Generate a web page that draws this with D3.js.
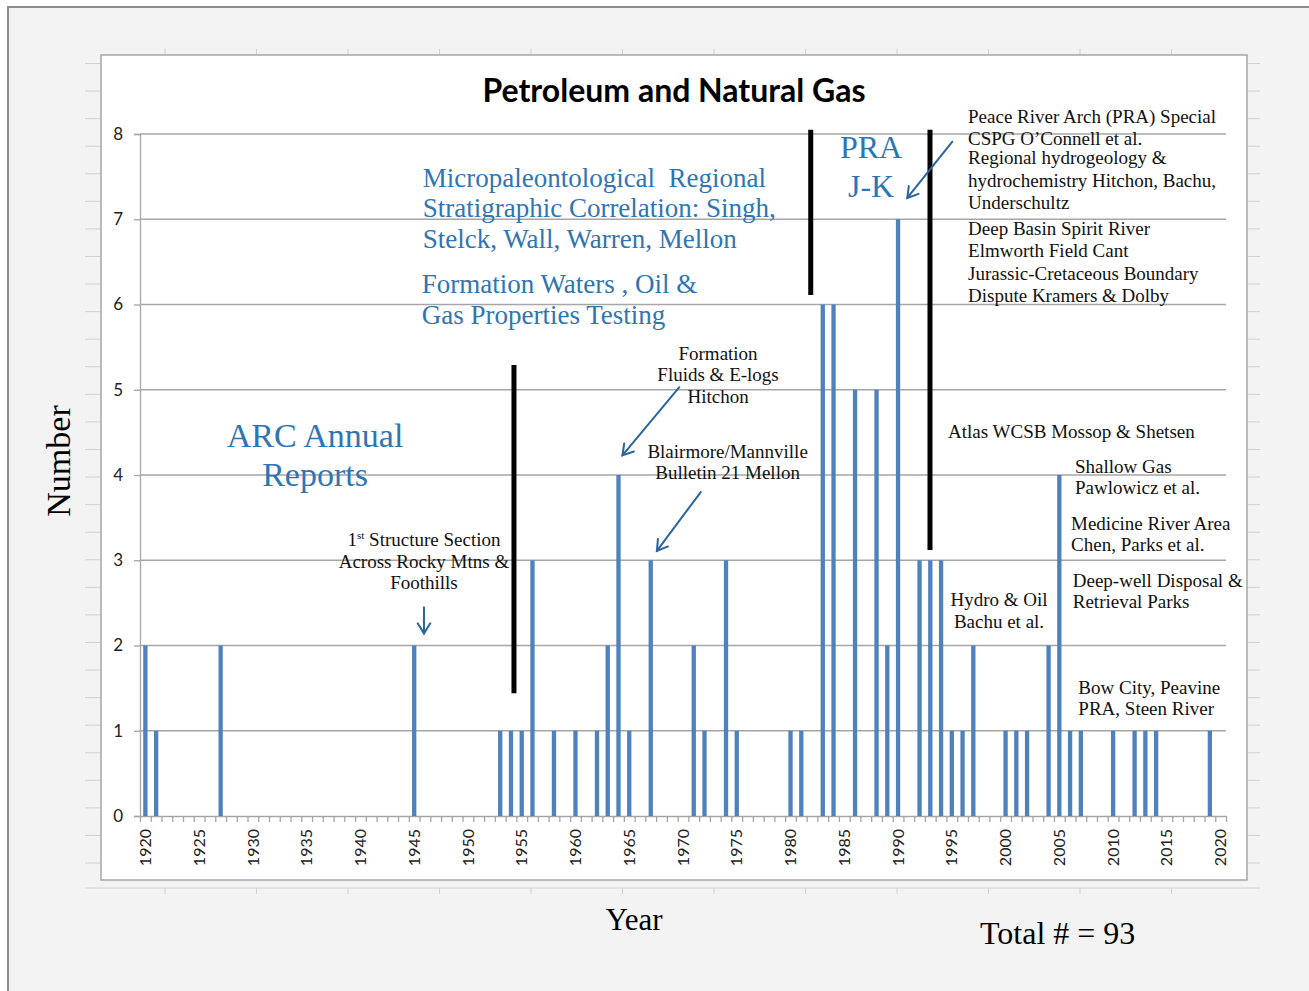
<!DOCTYPE html>
<html>
<head>
<meta charset="utf-8">
<script src="https://cdn.jsdelivr.net/npm/d3@7"></script>
<style>
  body { margin: 0; background: #fff; }
  text { white-space: pre; }
</style>
</head>
<body>
<script>

// data: publications per year
let years  = [1920, 1921, 1927, 1945, 1953, 1954, 1955, 1956, 1958, 1960, 1962, 1963, 1964, 1965, 1967,
              1971, 1972, 1974, 1975, 1980, 1981, 1983, 1984, 1986, 1988, 1989, 1990, 1992, 1993, 1994,
              1995, 1996, 1997, 2000, 2001, 2002, 2004, 2005, 2006, 2007, 2010, 2012, 2013, 2014, 2019];
let counts = [2, 1, 2, 2, 1, 1, 1, 3, 1, 1, 1, 2, 4, 1, 3,
              2, 1, 3, 1, 1, 1, 6, 6, 5, 5, 2, 7, 3, 3, 3,
              1, 1, 2, 1, 1, 1, 2, 4, 1, 1, 1, 1, 1, 1, 1];

let yearLabels = [1920, 1925, 1930, 1935, 1940, 1945, 1950, 1955, 1960, 1965, 1970,
                  1975, 1980, 1985, 1990, 1995, 2000, 2005, 2010, 2015, 2020];
let valueLabels = [0, 1, 2, 3, 4, 5, 6, 7, 8];

// annotations, placed in chart units (year, number)
let blueNotes = [
  {text: "Micropaleontological  Regional", year: 1945.79, value: 7.38, anchor: "start", size: 27},
  {text: "Stratigraphic Correlation: Singh,", year: 1945.79, value: 7.03, anchor: "start", size: 27},
  {text: "Stelck, Wall, Warren, Mellon", year: 1945.79, value: 6.66, anchor: "start", size: 27},
  {text: "Formation Waters , Oil &", year: 1945.70, value: 6.13, anchor: "start", size: 27},
  {text: "Gas Properties Testing", year: 1945.70, value: 5.77, anchor: "start", size: 27},
  {text: "ARC Annual", year: 1935.78, value: 4.33, anchor: "middle", size: 34},
  {text: "Reports", year: 1935.78, value: 3.87, anchor: "middle", size: 34},
  {text: "PRA", year: 1987.49, value: 7.72, anchor: "middle", size: 32},
  {text: "J-K", year: 1987.49, value: 7.26, anchor: "middle", size: 32}
];

let blackNotes = [
  {text: "Across Rocky Mtns &", year: 1945.91, value: 2.91, anchor: "middle"},
  {text: "Foothills", year: 1945.91, value: 2.66, anchor: "middle"},
  {text: "Formation", year: 1973.26, value: 5.35, anchor: "middle"},
  {text: "Fluids & E-logs", year: 1973.26, value: 5.10, anchor: "middle"},
  {text: "Hitchon", year: 1973.26, value: 4.84, anchor: "middle"},
  {text: "Blairmore/Mannville", year: 1974.15, value: 4.20, anchor: "middle"},
  {text: "Bulletin 21 Mellon", year: 1974.15, value: 3.95, anchor: "middle"},
  {text: "Peace River Arch (PRA) Special", year: 1996.51, value: 8.13, anchor: "start"},
  {text: "CSPG O\u2019Connell et al.", year: 1996.51, value: 7.87, anchor: "start"},
  {text: "Regional hydrogeology &", year: 1996.51, value: 7.65, anchor: "start"},
  {text: "hydrochemistry Hitchon, Bachu,", year: 1996.51, value: 7.38, anchor: "start"},
  {text: "Underschultz", year: 1996.51, value: 7.12, anchor: "start"},
  {text: "Deep Basin Spirit River", year: 1996.51, value: 6.82, anchor: "start"},
  {text: "Elmworth Field Cant", year: 1996.51, value: 6.56, anchor: "start"},
  {text: "Jurassic-Cretaceous Boundary", year: 1996.51, value: 6.29, anchor: "start"},
  {text: "Dispute Kramers & Dolby", year: 1996.51, value: 6.03, anchor: "start"},
  {text: "Atlas WCSB Mossop & Shetsen", year: 1994.65, value: 4.43, anchor: "start"},
  {text: "Shallow Gas", year: 2006.46, value: 4.02, anchor: "start"},
  {text: "Pawlowicz et al.", year: 2006.46, value: 3.78, anchor: "start"},
  {text: "Medicine River Area", year: 2006.09, value: 3.36, anchor: "start"},
  {text: "Chen, Parks et al.", year: 2006.09, value: 3.11, anchor: "start"},
  {text: "Deep-well Disposal &", year: 2006.25, value: 2.69, anchor: "start"},
  {text: "Retrieval Parks", year: 2006.25, value: 2.44, anchor: "start"},
  {text: "Hydro & Oil", year: 1999.39, value: 2.46, anchor: "middle"},
  {text: "Bachu et al.", year: 1999.39, value: 2.20, anchor: "middle"},
  {text: "Bow City, Peavine", year: 2006.77, value: 1.43, anchor: "start"},
  {text: "PRA, Steen River", year: 2006.77, value: 1.19, anchor: "start"}
];

let dividers = [
  {year: 1954.28, from: 1.44, to: 5.29},
  {year: 1981.88, from: 6.11, to: 8.05},
  {year: 1992.97, from: 3.12, to: 8.05}
];

let arrows = [
  {y1: 1945.91, v1: 2.45, y2: 1945.91, v2: 2.14},
  {y1: 1969.66, v1: 5.03, y2: 1964.37, v2: 4.23},
  {y1: 1971.65, v1: 3.80, y2: 1967.57, v2: 3.11},
  {y1: 1995.05, v1: 7.91, y2: 1990.86, v2: 7.25}
];

let width = 1309;
let height = 991;
let margin = ({top: 134, right: 83, bottom: 175, left: 140});

let barColor = "#4f81bd";
let noteBlue = "#2e75b6";
let arrowBlue = "#2b64a0";
let gridColor = "#a6a6a6";
let serif = "'Liberation Serif', 'Times New Roman', serif";
let sans = "Lato, 'Liberation Sans', sans-serif";

let svg = d3.select("body")
  .append("svg")
  .attr("width", width)
  .attr("height", height);

// slide background and frame
svg.append("rect")
  .attr("width", width).attr("height", height)
  .attr("fill", "#fff");
svg.append("rect")
  .attr("x", 8).attr("y", 7)
  .attr("width", width).attr("height", height)
  .attr("fill", "#f3f3f3")
  .attr("stroke", "#8c8c8c")
  .attr("stroke-width", 2);

// faint ruler ticks around the pasted chart
let faint = svg.append("g").attr("stroke", "#d2d2d2").attr("stroke-width", 1);
d3.range(63.5, 880, 27.57).forEach(ty => {
  faint.append("line").attr("x1", 85).attr("x2", 101).attr("y1", ty).attr("y2", ty);
  faint.append("line").attr("x1", 1247).attr("x2", 1260).attr("y1", ty).attr("y2", ty);
});
faint.append("line").attr("x1", 85).attr("x2", 1260).attr("y1", 888).attr("y2", 888);
d3.range(165, 1250, 91.5).forEach(tx => {
  faint.append("line").attr("x1", tx).attr("x2", tx).attr("y1", 888).attr("y2", 894);
  faint.append("line").attr("x1", tx).attr("x2", tx).attr("y1", 49).attr("y2", 55);
});

// chart area
svg.append("rect")
  .attr("x", 101).attr("y", 55)
  .attr("width", 1146).attr("height", 825)
  .attr("fill", "#fff")
  .attr("stroke", gridColor)
  .attr("stroke-width", 1.5);

let allYears = d3.range(1920, 2021);

let x = d3.scaleBand()
  .domain(allYears)
  .range([margin.left, width - margin.right])
  .paddingInner(0.6)
  .paddingOuter(0.3);

// continuous year scale for ticks and notes (category centres on whole years)
let xa = d3.scaleLinear()
  .domain([1919.5, 2020.5])
  .range([margin.left, width - margin.right]);

let y = d3.scaleLinear()
  .domain([0, 8])
  .range([height - margin.bottom, margin.top]);

// gridlines
svg.append("g")
  .selectAll("line")
  .data(valueLabels.filter(v => v > 0))
  .join("line")
    .attr("x1", margin.left)
    .attr("x2", width - margin.right)
    .attr("y1", d => y(d))
    .attr("y2", d => y(d))
    .attr("stroke", gridColor)
    .attr("stroke-width", 1.3);

// axes
let yAxis = g => g
  .attr("transform", `translate(${margin.left},0)`)
  .call(d3.axisLeft(y).tickValues(valueLabels).tickSize(6).tickPadding(11))
  .call(g => g.selectAll("line, path").attr("stroke", gridColor).attr("stroke-width", 1.3))
  .call(g => g.selectAll("text").attr("font-family", sans).attr("font-size", 17).attr("fill", "#222"));

let xAxis = g => g
  .attr("transform", `translate(0,${height - margin.bottom})`)
  .call(d3.axisBottom(xa).tickValues(d3.range(1919.5, 2021, 1)).tickSize(6).tickFormat("").tickSizeOuter(0))
  .call(g => g.selectAll("line, path").attr("stroke", gridColor).attr("stroke-width", 1.3));

svg.append("g").call(yAxis);
svg.append("g").call(xAxis);

svg.append("g")
  .selectAll("text")
  .data(yearLabels)
  .join("text")
    .attr("transform", d => `translate(${xa(d)},${height - margin.bottom + 13}) rotate(-90)`)
    .attr("text-anchor", "end")
    .attr("dy", "0.35em")
    .attr("font-family", sans)
    .attr("font-size", 16)
    .attr("fill", "#222")
    .text(d => d);

// bars
svg.append("g")
    .attr("fill", barColor)
  .selectAll("rect")
  .data(years)
  .join("rect")
    .attr("x", d => x(d))
    .attr("y", (d, i) => y(counts[i]))
    .attr("height", (d, i) => y(0) - y(counts[i]))
    .attr("width", x.bandwidth());

// title
svg.append("text")
  .attr("x", 674).attr("y", 102)
  .attr("text-anchor", "middle")
  .attr("font-family", sans)
  .attr("font-weight", "bold")
  .attr("font-size", 32)
  .text("Petroleum and Natural Gas");

// divider lines
svg.append("g")
  .selectAll("line")
  .data(dividers)
  .join("line")
    .attr("x1", d => xa(d.year)).attr("x2", d => xa(d.year))
    .attr("y1", d => y(d.from)).attr("y2", d => y(d.to))
    .attr("stroke", "#000")
    .attr("stroke-width", 5);

// notes
svg.append("g")
  .selectAll("text")
  .data(blueNotes)
  .join("text")
    .attr("x", d => xa(d.year))
    .attr("y", d => y(d.value))
    .attr("text-anchor", d => d.anchor)
    .attr("font-family", serif)
    .attr("font-size", d => d.size)
    .attr("fill", noteBlue)
    .text(d => d.text);

svg.append("g")
  .selectAll("text")
  .data(blackNotes)
  .join("text")
    .attr("x", d => xa(d.year))
    .attr("y", d => y(d.value))
    .attr("text-anchor", d => d.anchor)
    .attr("font-family", serif)
    .attr("font-size", 19)
    .attr("fill", "#111")
    .text(d => d.text);

let first = svg.append("text")
  .attr("x", xa(1945.91))
  .attr("y", y(3.17))
  .attr("text-anchor", "middle")
  .attr("font-family", serif)
  .attr("font-size", 19)
  .attr("fill", "#111");
first.append("tspan").text("1");
first.append("tspan").attr("font-size", 11).attr("dy", -7).text("st");
first.append("tspan").attr("dy", 7).text(" Structure Section");

// arrows with open heads
let arrowG = svg.append("g")
  .attr("stroke", arrowBlue)
  .attr("stroke-width", 2)
  .attr("fill", "none")
  .attr("stroke-linecap", "round");

arrows.forEach(a => {
  let x1 = xa(a.y1), y1 = y(a.v1), x2 = xa(a.y2), y2 = y(a.v2);
  let ang = Math.atan2(y2 - y1, x2 - x1);
  let len = 12, spread = 0.55;
  arrowG.append("line").attr("x1", x1).attr("y1", y1).attr("x2", x2).attr("y2", y2);
  arrowG.append("path")
    .attr("d", `M${x2 - len * Math.cos(ang - spread)},${y2 - len * Math.sin(ang - spread)}` +
               `L${x2},${y2}` +
               `L${x2 - len * Math.cos(ang + spread)},${y2 - len * Math.sin(ang + spread)}`);
});

// axis titles
svg.append("text")
  .attr("transform", "translate(70,461) rotate(-90)")
  .attr("text-anchor", "middle")
  .attr("font-family", serif)
  .attr("font-size", 34)
  .text("Number");

svg.append("text")
  .attr("x", 634).attr("y", 930)
  .attr("text-anchor", "middle")
  .attr("font-family", serif)
  .attr("font-size", 31)
  .text("Year");

svg.append("text")
  .attr("x", 980).attr("y", 944)
  .attr("font-family", serif)
  .attr("font-size", 32)
  .text("Total # = 93");

</script>
</body>
</html>
